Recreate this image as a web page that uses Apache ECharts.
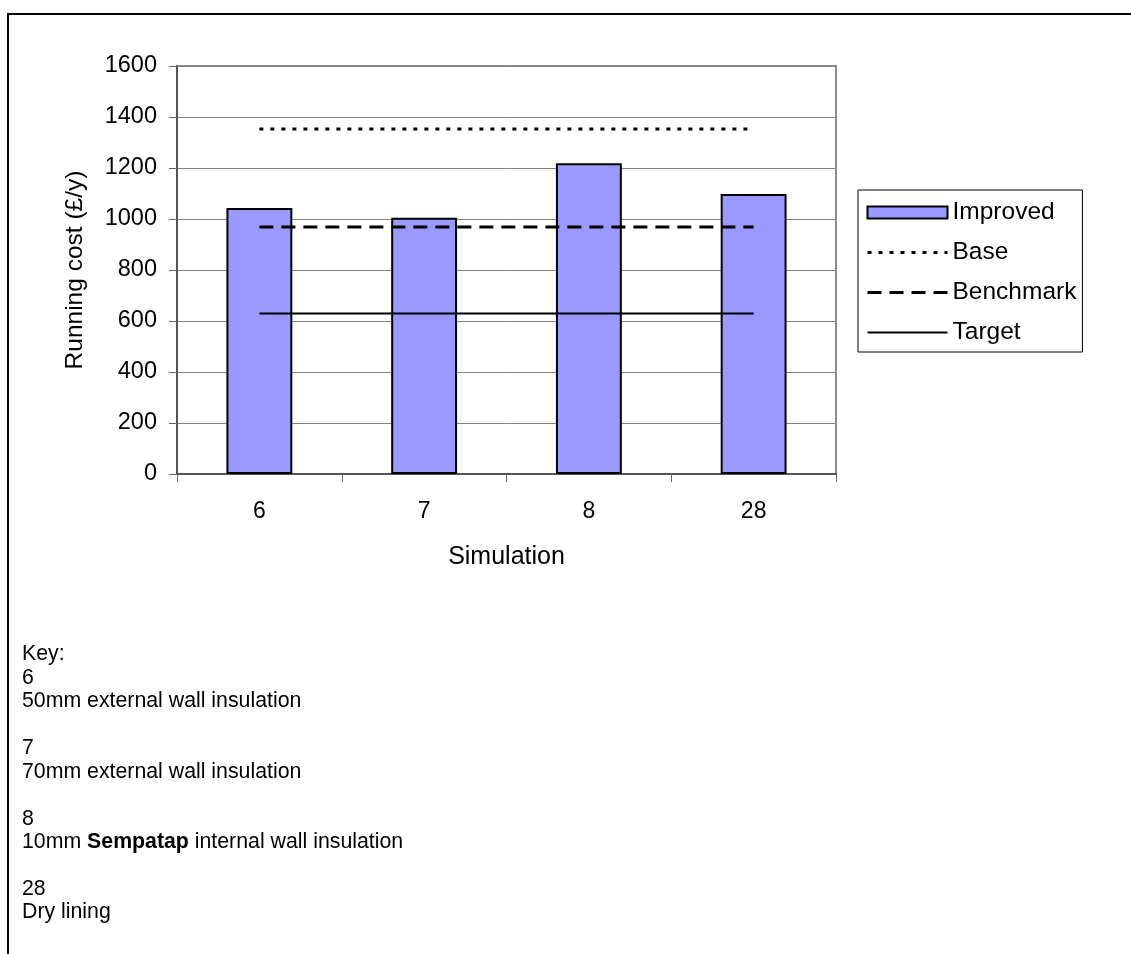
<!DOCTYPE html>
<html>
<head>
<meta charset="utf-8">
<title>Running cost by simulation</title>
<script src="https://cdn.jsdelivr.net/npm/echarts@6/dist/echarts.min.js"></script>
<style>
  html, body { margin: 0; padding: 0; background: #fff; }
  #chart { width: 1131px; height: 954px; }
</style>
</head>
<body>
<div id="chart"></div>
<script>
// Simulations compared
const categories = ['6', '7', '8', '28'];

// Running cost (£/y) per simulation
const improved = [1043, 1005, 1219, 1098];
const base = [1353, 1353, 1353, 1353];
const benchmark = [969, 969, 969, 969];
const target = [629, 629, 629, 629];

// Value axis range
const yMin = 0;
const yMax = 1600;
const yStep = 200;

// Key shown under the chart
const keyTitle = 'Key:';
const keyIds = ['6', '7', '8', '28'];
const keyTexts = [
  '50mm external wall insulation',
  '70mm external wall insulation',
  '{b|Sempatap} internal wall insulation',
  'Dry lining'
];
const keyPrefixes = ['', '', '10mm ', ''];

const FONT = '"Liberation Sans", Arial, sans-serif';
const chart = echarts.init(document.getElementById('chart'), null, { renderer: 'canvas' });

// Key text blocks
const keyGraphics = [];
const keyFont = 21.3;
const lineH = 23.45;
let yCursor = 644;
keyGraphics.push({
  type: 'text', left: 22, top: yCursor,
  style: { text: keyTitle, font: keyFont + 'px ' + FONT, fill: '#000' }
});
yCursor += lineH;
keyIds.forEach((id, i) => {
  keyGraphics.push({
    type: 'text', left: 22, top: yCursor,
    style: { text: id, font: keyFont + 'px ' + FONT, fill: '#000' }
  });
  yCursor += lineH;
  keyGraphics.push({
    type: 'text', left: 22, top: yCursor,
    style: {
      text: keyPrefixes[i] + keyTexts[i],
      font: keyFont + 'px ' + FONT, fill: '#000',
      rich: { b: { fontWeight: 'bold', fontSize: keyFont, fontFamily: FONT, fill: '#000' } }
    }
  });
  yCursor += lineH * 2;
});

// Page frame: top and left edges
keyGraphics.push({
  type: 'polyline',
  shape: { points: [[8, 954], [8, 14], [1131, 14]] },
  style: { stroke: '#000', lineWidth: 2, fill: null }
});

// Line legend entries show only the stroke
const lineLegendStyle = { color: 'transparent', borderWidth: 0, opacity: 0 };
const baseStroke = { color: '#000', width: 3, type: [4, 7], cap: 'butt' };
const benchmarkStroke = { color: '#000', width: 3, type: [14, 8], cap: 'butt' };
const targetStroke = { color: '#000', width: 2, type: 'solid' };

const option = {
  backgroundColor: '#fff',
  animation: false,
  textStyle: { fontFamily: FONT, color: '#000' },
  grid: {
    left: 177, top: 66, right: 295, bottom: 480,
    show: true, borderColor: '#8c8c8c', borderWidth: 2, backgroundColor: 'transparent'
  },
  legend: {
    orient: 'vertical',
    left: 858, top: 190,
    padding: [10, 6, 7, 8],
    itemWidth: 80, itemHeight: 12, itemGap: 15, itemTextGap: 14,
    borderColor: '#000', borderWidth: 1,
    textStyle: { fontFamily: FONT, fontSize: 24.5, color: '#000', lineHeight: 24 },
    data: [
      { name: 'Improved', icon: 'rect' },
      { name: 'Base', itemStyle: lineLegendStyle, lineStyle: baseStroke },
      { name: 'Benchmark', itemStyle: lineLegendStyle, lineStyle: benchmarkStroke },
      { name: 'Target', itemStyle: lineLegendStyle, lineStyle: targetStroke }
    ]
  },
  xAxis: {
    type: 'category',
    data: categories,
    boundaryGap: true,
    axisLine: { show: true, lineStyle: { color: '#555', width: 2 } },
    axisTick: { show: true, length: 8, inside: false, lineStyle: { color: '#666', width: 1 } },
    axisLabel: { fontSize: 23, color: '#000', margin: 26, fontFamily: FONT },
    name: 'Simulation',
    nameLocation: 'middle',
    nameGap: 71,
    nameTextStyle: { fontSize: 25, color: '#000', fontFamily: FONT }
  },
  yAxis: {
    type: 'value',
    min: yMin, max: yMax, interval: yStep,
    axisLine: { show: true, lineStyle: { color: '#555', width: 2 } },
    axisTick: { show: true, length: 8, lineStyle: { color: '#666', width: 1 } },
    axisLabel: {
      fontSize: 23.5, color: '#000', margin: 20, fontFamily: FONT,
      formatter: (v) => String(v)
    },
    splitLine: { show: true, lineStyle: { color: '#808080', width: 1 } },
    name: 'Running cost (£/y)',
    nameLocation: 'middle',
    nameGap: 89,
    nameTextStyle: { fontSize: 24.5, color: '#000', fontFamily: FONT }
  },
  series: [
    {
      name: 'Improved', type: 'bar', data: improved,
      barWidth: '40%',
      itemStyle: { color: '#9999ff', borderColor: '#000', borderWidth: 2 },
      z: 2
    },
    {
      name: 'Base', type: 'line', data: base, symbol: 'none',
      lineStyle: baseStroke,
      itemStyle: { color: '#000' }, z: 3
    },
    {
      name: 'Benchmark', type: 'line', data: benchmark, symbol: 'none',
      lineStyle: benchmarkStroke,
      itemStyle: { color: '#000' }, z: 3
    },
    {
      name: 'Target', type: 'line', data: target, symbol: 'none',
      lineStyle: targetStroke,
      itemStyle: { color: '#000' }, z: 3
    }
  ],
  graphic: keyGraphics
};

chart.setOption(option);
</script>
</body>
</html>
